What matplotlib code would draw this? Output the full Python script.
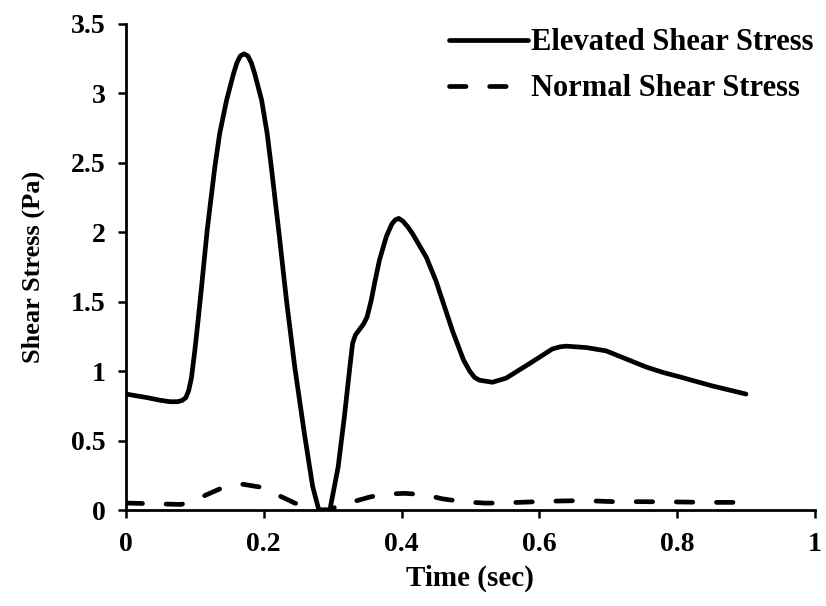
import matplotlib
matplotlib.use("Agg")
import matplotlib.pyplot as plt

# Wall shear stress over one cardiac cycle
time_elevated = [0.000, 0.030, 0.050, 0.064, 0.075, 0.082, 0.087, 0.091, 0.095, 0.100,
                 0.105, 0.110, 0.118, 0.129, 0.136, 0.146, 0.156, 0.161, 0.166, 0.1715,
                 0.177, 0.182, 0.187, 0.197, 0.205, 0.211, 0.222, 0.233, 0.245, 0.259,
                 0.271, 0.280, 0.296, 0.308, 0.317, 0.325, 0.329, 0.333, 0.339, 0.345,
                 0.350, 0.356, 0.362, 0.368, 0.378, 0.386, 0.391, 0.396, 0.402, 0.409,
                 0.416, 0.436, 0.450, 0.474, 0.490, 0.499, 0.506, 0.513, 0.532, 0.552,
                 0.586, 0.619, 0.630, 0.639, 0.668, 0.697, 0.730, 0.755, 0.780, 0.803,
                 0.850, 0.900]
stress_elevated = [0.835, 0.81, 0.79, 0.78, 0.78, 0.79, 0.81, 0.86, 0.95, 1.15,
                   1.38, 1.62, 2.02, 2.47, 2.71, 2.95, 3.14, 3.22, 3.27, 3.285,
                   3.27, 3.22, 3.14, 2.95, 2.71, 2.47, 2.00, 1.51, 1.03, 0.55,
                   0.17, 0.00, 0.00, 0.31, 0.67, 1.03, 1.20, 1.26, 1.30, 1.34,
                   1.39, 1.51, 1.66, 1.80, 1.97, 2.06, 2.09, 2.10, 2.08, 2.04,
                   1.99, 1.82, 1.65, 1.29, 1.08, 1.00, 0.955, 0.935, 0.92, 0.95,
                   1.055, 1.16, 1.175, 1.18, 1.17, 1.146, 1.08, 1.03, 0.99, 0.96,
                   0.895, 0.835]

time_normal = [0.000, 0.040, 0.080, 0.100, 0.117, 0.140, 0.170, 0.195, 0.228, 0.245,
               0.265, 0.280, 0.295, 0.310, 0.330, 0.355, 0.378, 0.405, 0.433, 0.460,
               0.489, 0.520, 0.542, 0.570, 0.598, 0.630, 0.653, 0.680, 0.709, 0.750,
               0.800, 0.850, 0.900]
stress_normal = [0.05, 0.045, 0.04, 0.07, 0.11, 0.16, 0.185, 0.165, 0.09, 0.05,
                 0.02, 0.0, 0.0, 0.035, 0.06, 0.095, 0.115, 0.12, 0.11, 0.08,
                 0.06, 0.05, 0.05, 0.055, 0.06, 0.065, 0.067, 0.065, 0.06, 0.06,
                 0.058, 0.055, 0.055]

x_ticks = [0, 0.2, 0.4, 0.6, 0.8, 1]
x_tick_labels = ["0", "0.2", "0.4", "0.6", "0.8", "1"]
y_ticks = [0, 0.5, 1, 1.5, 2, 2.5, 3, 3.5]
y_tick_labels = ["0", "0.5", "1", "1.5", "2", "2.5", "3", "3.5"]

plt.rcParams["font.family"] = ["Liberation Serif", "DejaVu Serif"]
plt.rcParams["font.weight"] = "bold"

fig = plt.figure(figsize=(8.26, 6.06), dpi=100)
ax = fig.add_axes([0.1525, 0.1584, 0.834, 0.802])

ax.plot(time_elevated, stress_elevated, color="black", lw=3.4,
        solid_capstyle="round", solid_joinstyle="round",
        label="Elevated Shear Stress")
ax.plot(time_normal, stress_normal, color="black", lw=3.4,
        dashes=(3.5, 5.0), dash_capstyle="round", dash_joinstyle="round",
        label="Normal Shear Stress")

ax.set_xlim(0, 1)
ax.set_ylim(0, 3.5)
ax.set_xticks(x_ticks)
ax.set_xticklabels(x_tick_labels)
ax.set_yticks(y_ticks)
ax.set_yticklabels(y_tick_labels)

for side in ("top", "right"):
    ax.spines[side].set_visible(False)
for side in ("left", "bottom"):
    ax.spines[side].set_linewidth(2.0)
ax.tick_params(direction="out", length=5.5, width=1.8, labelsize=20)
ax.tick_params(axis="y", pad=9)
ax.tick_params(axis="x", pad=10)
for lbl in ax.get_xticklabels() + ax.get_yticklabels():
    lbl.set_fontweight("bold")

ax.set_xlabel("Time (sec)", fontsize=21, fontweight="bold")
ax.set_ylabel("Shear Stress (Pa)", fontsize=19, fontweight="bold")
ax.xaxis.set_label_coords(0.5, -0.113)
ax.yaxis.set_label_coords(-0.118, 0.5)

leg = fig.legend(loc="upper right", bbox_to_anchor=(0.985, 0.953), frameon=False,
                 borderaxespad=0, borderpad=0,
                 handlelength=2.6, handletextpad=0.1, labelspacing=0.55,
                 prop={"weight": "bold", "size": 22})

fig.savefig("out.png", dpi=100)
